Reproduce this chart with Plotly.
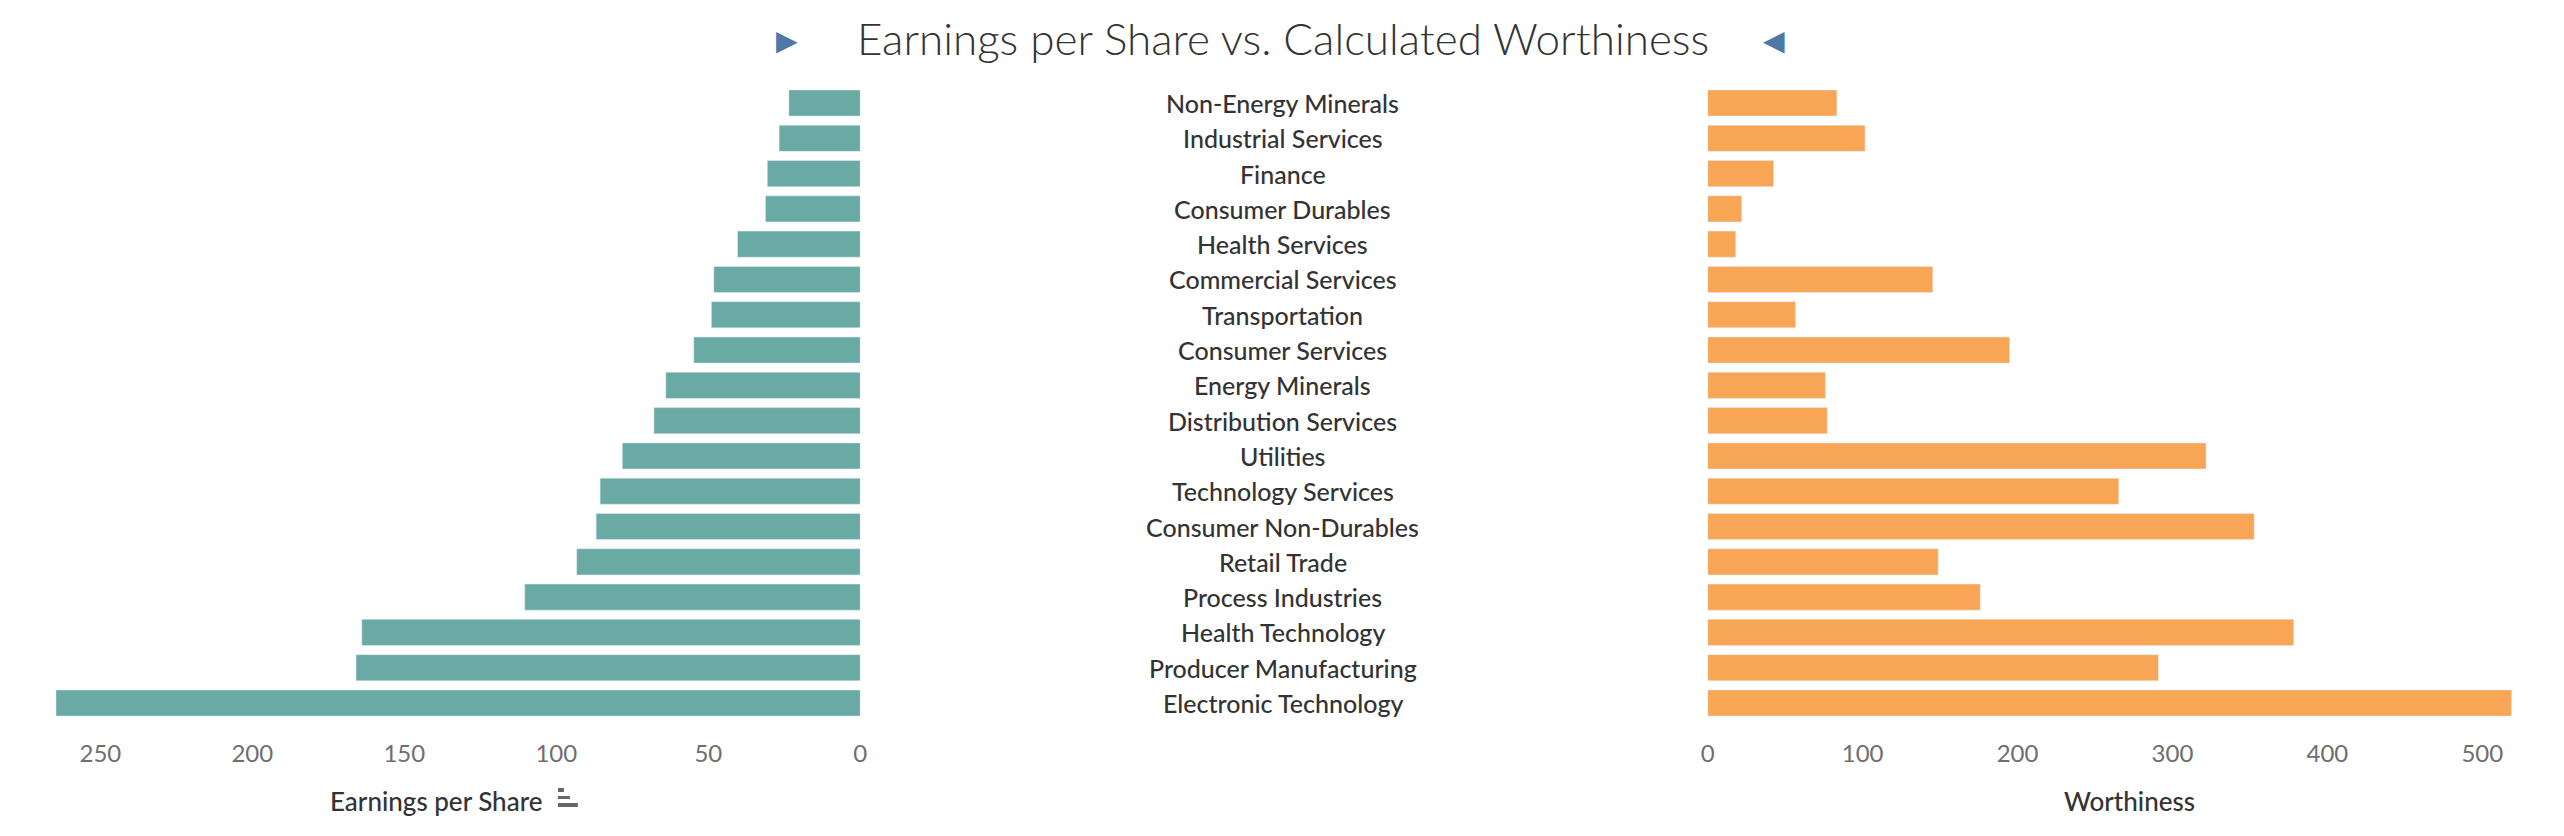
import plotly.graph_objects as go

W, H = 2564, 836

# sectors, top to bottom
sectors = [
    "Non-Energy Minerals", "Industrial Services", "Finance", "Consumer Durables",
    "Health Services", "Commercial Services", "Transportation", "Consumer Services",
    "Energy Minerals", "Distribution Services", "Utilities", "Technology Services",
    "Consumer Non-Durables", "Retail Trade", "Process Industries", "Health Technology",
    "Producer Manufacturing", "Electronic Technology",
]
eps = [23.5, 26.7, 30.6, 31.2, 40.4, 48.2, 49.0, 54.8, 64.0, 67.9,
       78.3, 85.6, 86.9, 93.3, 110.4, 164.0, 165.9, 264.6]
worthiness = [83.4, 101.6, 42.5, 22.0, 18.1, 145.3, 56.7, 194.9, 76.0, 77.2,
              321.7, 265.4, 352.8, 148.8, 176.0, 378.3, 291.0, 518.9]
eps_ticks = [0, 50, 100, 150, 200, 250]
worth_ticks = [0, 100, 200, 300, 400, 500]

TEAL = "#6aaaa5"
ORANGE = "#f8a656"
BLUE = "#4e79a7"
FONT = "Lato"

def px_x(x):
    return x / W

def px_y(y):
    return 1 - y / H

fig = go.Figure()
fig.add_trace(go.Bar(x=eps, y=sectors, orientation="h", marker_color=TEAL,
                     xaxis="x", yaxis="y", hoverinfo="skip"))
fig.add_trace(go.Bar(x=worthiness, y=sectors, orientation="h", marker_color=ORANGE,
                     xaxis="x2", yaxis="y2", hoverinfo="skip"))

tick_font = dict(family=FONT, size=24, color="#6e6e6e")
yspan = [px_y(720.65), px_y(85.35)]

fig.update_layout(
    width=W, height=H, autosize=False,
    margin=dict(l=0, r=0, t=0, b=0),
    paper_bgcolor="white", plot_bgcolor="white",
    showlegend=False, bargap=0.26,
    xaxis=dict(domain=[px_x(48), px_x(858)], range=[265, 0], tickvals=eps_ticks,
               showgrid=False, zeroline=False, showline=False,
               ticks="outside", ticklen=12, tickcolor="rgba(0,0,0,0)",
               tickfont=tick_font),
    xaxis2=dict(domain=[px_x(1710), px_x(2520)], range=[0, 520], tickvals=worth_ticks,
                showgrid=False, zeroline=False, showline=False,
                ticks="outside", ticklen=12, tickcolor="rgba(0,0,0,0)",
                tickfont=tick_font, anchor="y2"),
    yaxis=dict(domain=yspan, categoryorder="array", categoryarray=sectors,
               autorange="reversed", showticklabels=False, showgrid=False,
               zeroline=False, anchor="x"),
    yaxis2=dict(domain=yspan, categoryorder="array", categoryarray=sectors,
                autorange="reversed", showticklabels=False, showgrid=False,
                zeroline=False, anchor="x2"),
)

# sector names in the middle column
for s in sectors:
    fig.add_annotation(x=px_x(1283), xref="paper", y=s, yref="y", text=s,
                       showarrow=False, xanchor="center", yanchor="middle",
                       font=dict(family=FONT, size=25, color="#333333", weight=500))

# title and its arrows
fig.add_annotation(x=px_x(1283), y=px_y(38), xref="paper", yref="paper",
                   text="Earnings per Share vs. Calculated Worthiness", showarrow=False,
                   xanchor="center", yanchor="middle",
                   font=dict(family=FONT, size=44, color="#333333", weight=300))
fig.add_annotation(x=px_x(784), y=px_y(40), xref="paper", yref="paper", text="▶",
                   showarrow=False, xanchor="center", yanchor="middle",
                   font=dict(family="DejaVu Sans", size=28, color=BLUE))
fig.add_annotation(x=px_x(1777), y=px_y(40), xref="paper", yref="paper", text="◀",
                   showarrow=False, xanchor="center", yanchor="middle",
                   font=dict(family="DejaVu Sans", size=28, color=BLUE))

# axis titles
fig.add_annotation(x=px_x(540), y=px_y(801), xref="paper", yref="paper",
                   text="Earnings per Share", showarrow=False,
                   xanchor="right", yanchor="middle",
                   font=dict(family=FONT, size=26, color="#333333", weight=500))
fig.add_annotation(x=px_x(2134), y=px_y(801), xref="paper", yref="paper",
                   text="Worthiness", showarrow=False,
                   xanchor="center", yanchor="middle",
                   font=dict(family=FONT, size=26, color="#333333", weight=500))

# little sort icon next to the left axis title
for x0, x1, y0, y1 in [(554, 560, 788, 792), (554, 566, 796, 799), (554, 574, 803, 807)]:
    fig.add_shape(type="rect", xref="paper", yref="paper",
                  x0=px_x(x0), x1=px_x(x1), y0=px_y(y1), y1=px_y(y0),
                  fillcolor="#666666", line_width=0)

fig.write_html("out.html", config={"displayModeBar": False},
               post_script="document.body.style.margin='0';")
